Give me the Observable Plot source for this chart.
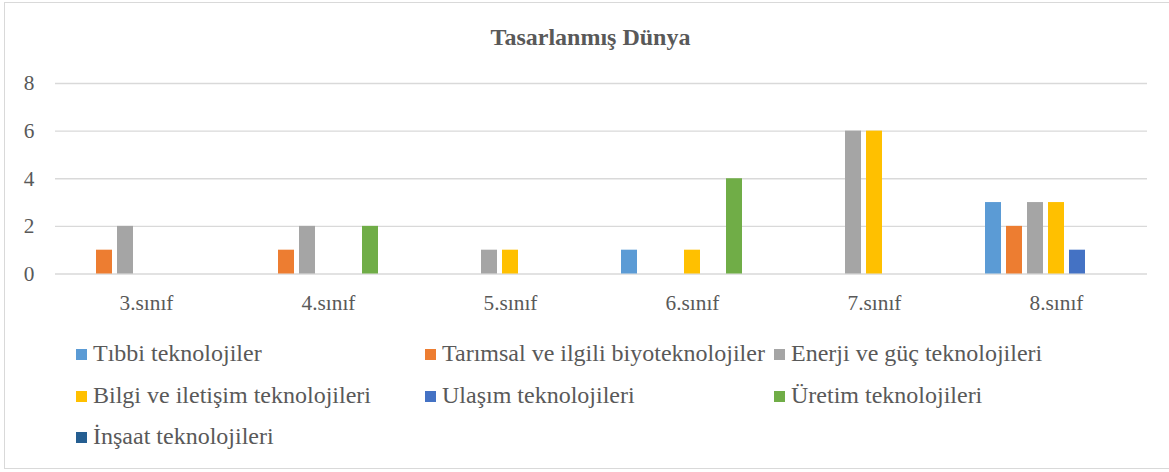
<!DOCTYPE html>
<html>
<head>
<meta charset="utf-8">
<script src="https://cdn.jsdelivr.net/npm/d3@7"></script>
<script src="https://cdn.jsdelivr.net/npm/@observablehq/plot@0.6"></script>
<style>
  html, body { margin: 0; padding: 0; background: #fff; overflow: hidden; }
  #wrap { position: relative; width: 1169px; height: 472px; font-family: "Liberation Serif", "Times New Roman", serif; color: #595959; }
  #frame { position: absolute; left: 4px; top: 2px; width: 1175px; height: 467px; border: 1.5px solid #d9d9d9; box-sizing: border-box; }
  #title { position: absolute; left: 0; top: 25px; width: 1181px; text-align: center; font-size: 24px; line-height: 24px; font-weight: bold; }
  #chart { position: absolute; left: 0; top: 0; }
  .lg { position: absolute; font-size: 24px; line-height: 24px; white-space: nowrap; }
  .sw { position: absolute; width: 11px; height: 11px; }
</style>
</head>
<body>
<div id="wrap">
  <div id="frame"></div>
  <div id="chart"></div>
  <div id="title">Tasarlanmış Dünya</div>
  <div id="legend"></div>
</div>
<script>
const categories = ["3.sınıf", "4.sınıf", "5.sınıf", "6.sınıf", "7.sınıf", "8.sınıf"];
const seriesNames = [
  "Tıbbi teknolojiler",
  "Tarımsal ve ilgili biyoteknolojiler",
  "Enerji ve güç teknolojileri",
  "Bilgi ve iletişim teknolojileri",
  "Ulaşım teknolojileri",
  "Üretim teknolojileri",
  "İnşaat teknolojileri"
];
const seriesColors = ["#5B9BD5", "#ED7D31", "#A5A5A5", "#FFC000", "#4472C4", "#70AD47", "#255E91"];
const tibbi    = [0, 0, 0, 1, 0, 3];
const tarimsal = [1, 1, 0, 0, 0, 2];
const enerji   = [2, 2, 1, 0, 6, 3];
const bilgi    = [0, 0, 1, 1, 6, 3];
const ulasim   = [0, 0, 0, 0, 0, 1];
const uretim   = [0, 2, 0, 4, 0, 0];
const insaat   = [0, 0, 0, 0, 0, 0];
const yTicks = [0, 2, 4, 6, 8];

const seriesValues = [tibbi, tarimsal, enerji, bilgi, ulasim, uretim, insaat];
const rows = [];
seriesValues.forEach((vals, s) => {
  vals.forEach((v, c) => {
    if (v > 0) rows.push({cat: categories[c], series: seriesNames[s], value: v});
  });
});

const chart = Plot.plot({
  width: 1169,
  height: 330,
  marginLeft: 55,
  marginRight: 22,
  marginTop: 83,
  marginBottom: 56.5,
  style: {fontFamily: "'Liberation Serif', 'Times New Roman', serif", fontSize: "21.3px", color: "#595959", background: "transparent", overflow: "visible"},
  fx: {domain: categories, padding: 0, label: null, axis: "bottom", tickSize: 0, tickPadding: 21},
  x: {domain: seriesNames, axis: null, paddingInner: 0.216, paddingOuter: 0.88},
  y: {domain: [0, 8], ticks: yTicks, tickSize: 0, tickPadding: 21, label: null},
  color: {domain: seriesNames, range: seriesColors},
  marks: [
    Plot.ruleY(yTicks, {stroke: "#d9d9d9", strokeWidth: 1.4}),
    Plot.barY(rows, {fx: "cat", x: "series", y: "value", fill: "series"})
  ]
});
document.getElementById("chart").appendChild(chart);

const legend = document.getElementById("legend");
const rowBaselines = [361, 402.5, 444];
seriesNames.forEach((name, i) => {
  const col = i % 3, row = Math.floor(i / 3);
  const x = 76 + col * 349;
  const base = rowBaselines[row];
  const sw = document.createElement("div");
  sw.className = "sw";
  sw.style.left = x + "px";
  sw.style.top = (base - 12) + "px";
  sw.style.background = seriesColors[i];
  legend.appendChild(sw);
  const t = document.createElement("div");
  t.className = "lg";
  t.style.left = (x + 17) + "px";
  t.style.top = (base - 20) + "px";
  t.textContent = name;
  legend.appendChild(t);
});
</script>
</body>
</html>
